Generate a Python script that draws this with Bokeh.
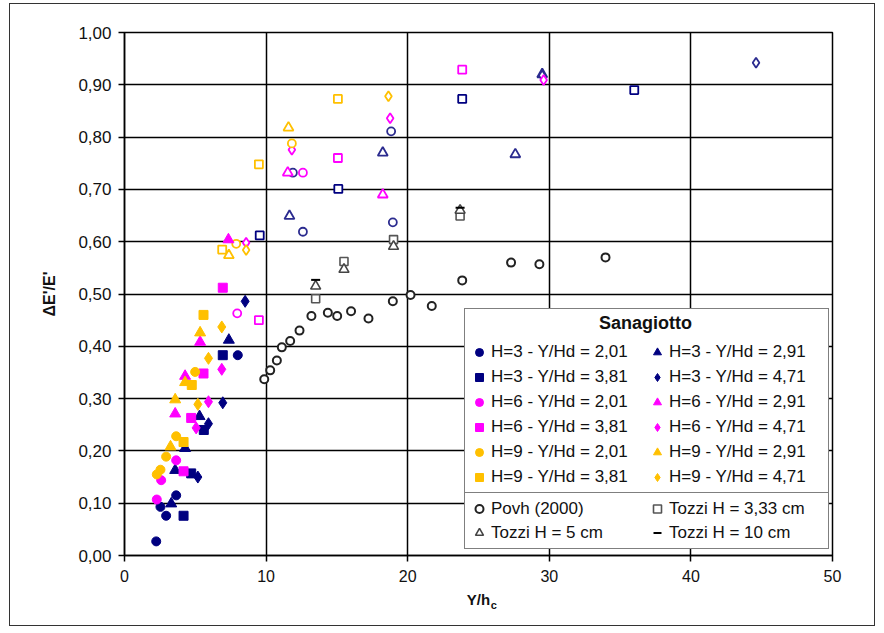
from bokeh.plotting import figure
from bokeh.models import (Range1d, FixedTicker, CustomJSTickFormatter, Legend, LegendItem,
                          LinearAxis)
from bokeh.embed import file_html
from bokeh.resources import INLINE

# ---------------- data ----------------
x_ticks = [0, 10, 20, 30, 40, 50]
y_ticks = [0.0, 0.1, 0.2, 0.3, 0.4, 0.5, 0.6, 0.7, 0.8, 0.9, 1.0]

# Sanagiotto (filled markers, in legend)
h3_201_x = [2.24, 2.54, 2.94, 3.65, 8.00]
h3_201_y = [0.027, 0.093, 0.076, 0.115, 0.383]
h3_291_x = [3.30, 3.58, 4.28, 5.30, 7.37]
h3_291_y = [0.099, 0.163, 0.205, 0.266, 0.412]
h3_381_x = [4.17, 4.71, 5.60, 6.94]
h3_381_y = [0.076, 0.157, 0.240, 0.383]
h3_471_x = [5.18, 5.93, 6.94, 8.52]
h3_471_y = [0.150, 0.252, 0.292, 0.486]

h6_201_x = [2.28, 2.59, 3.65]
h6_201_y = [0.107, 0.144, 0.182]
h6_291_x = [3.58, 4.28, 5.34, 7.34]
h6_291_y = [0.271, 0.343, 0.408, 0.604]
h6_381_x = [4.17, 4.71, 5.58, 6.94]
h6_381_y = [0.161, 0.263, 0.348, 0.512]
h6_471_x = [5.06, 5.93, 6.87]
h6_471_y = [0.244, 0.294, 0.356]

h9_201_x = [2.28, 2.54, 2.94, 3.65, 4.99]
h9_201_y = [0.155, 0.164, 0.189, 0.228, 0.351]
h9_291_x = [3.25, 3.58, 4.28, 5.34]
h9_291_y = [0.208, 0.298, 0.331, 0.426]
h9_381_x = [4.17, 4.75, 5.58]
h9_381_y = [0.217, 0.326, 0.460]
h9_471_x = [5.18, 5.93, 6.87]
h9_471_y = [0.289, 0.377, 0.437]

# Sanagiotto open markers (not in legend)
o3_sq_x = [9.55, 15.10, 23.85, 36.00]
o3_sq_y = [0.612, 0.701, 0.873, 0.890]
o3_tri_x = [11.65, 18.24, 27.60, 29.50]
o3_tri_y = [0.649, 0.770, 0.767, 0.920]
o3_cir_x = [11.89, 12.60, 18.95, 18.83]
o3_cir_y = [0.732, 0.619, 0.637, 0.811]
o3_dia_x = [29.50, 44.60]
o3_dia_y = [0.918, 0.942]

o6_sq_x = [9.49, 15.07, 23.85]
o6_sq_y = [0.450, 0.760, 0.929]
o6_tri_x = [11.53, 18.24]
o6_tri_y = [0.732, 0.690]
o6_cir_x = [7.96, 12.60]
o6_cir_y = [0.463, 0.732]
o6_dia_x = [8.59, 11.82, 18.76, 29.60]
o6_dia_y = [0.598, 0.776, 0.836, 0.909]

o9_sq_x = [6.90, 9.49, 15.07]
o9_sq_y = [0.585, 0.748, 0.873]
o9_tri_x = [7.37, 11.58]
o9_tri_y = [0.574, 0.818]
o9_cir_x = [7.89, 11.82]
o9_cir_y = [0.596, 0.788]
o9_dia_x = [8.59, 18.64]
o9_dia_y = [0.584, 0.878]

# Other authors
povh_x = [9.87, 10.29, 10.76, 11.11, 11.70, 12.36, 13.20, 14.36, 15.02, 16.00,
          17.23, 18.95, 20.20, 21.70, 23.85, 27.30, 29.30, 33.97]
povh_y = [0.337, 0.354, 0.373, 0.398, 0.410, 0.430, 0.458, 0.464, 0.458, 0.467,
          0.453, 0.486, 0.498, 0.477, 0.526, 0.560, 0.557, 0.570]
tozzi333_x = [13.5, 15.5, 19.0, 23.7]
tozzi333_y = [0.491, 0.562, 0.604, 0.649]
tozzi5_x = [13.5, 15.5, 19.0, 23.7]
tozzi5_y = [0.515, 0.547, 0.591, 0.660]
tozzi10_x = [13.5, 23.7]
tozzi10_y = [0.527, 0.665]

# ---------------- styles ----------------
NAVY = "#000080"
NAVY_O = "#2b2b8f"
MAG = "#FF00FF"
ORG = "#FFC000"
FONT = "Liberation Sans"

p = figure(frame_width=708, frame_height=523,
           min_border_left=114, min_border_right=42, min_border_top=28, min_border_bottom=70,
           x_range=Range1d(0, 50), y_range=Range1d(0, 1),
           output_backend="svg", toolbar_location=None,
           background_fill_color="white", border_fill_color="white")
p.styles = {"border": "1px solid #333", "margin-left": "9px", "margin-top": "3px"}

p.outline_line_color = "black"
p.outline_line_width = 1.5

for ax in (p.xaxis[0], p.yaxis[0]):
    ax.axis_line_color = "black"
    ax.axis_line_width = 1.5
    ax.major_tick_line_color = "black"
    ax.major_tick_line_width = 1.5
    ax.major_tick_out = 6
    ax.major_tick_in = 0
    ax.minor_tick_line_color = None
    ax.major_label_text_font = FONT
    ax.major_label_text_color = "#111111"
    ax.axis_label_text_font = FONT
    ax.axis_label_text_font_style = "bold"
    ax.axis_label_text_color = "#111111"

p.xaxis.ticker = FixedTicker(ticks=x_ticks)
p.yaxis.ticker = FixedTicker(ticks=y_ticks)
p.yaxis.formatter = CustomJSTickFormatter(code="return tick.toFixed(2).replace('.', ',');")
p.xaxis.major_label_text_font_size = "16px"
p.yaxis.major_label_text_font_size = "17px"
p.xaxis.major_label_standoff = 8
p.yaxis.major_label_standoff = 7
p.xaxis.axis_label = "Y/h"
p.yaxis.axis_label = "ΔE'/E'"
p.xaxis.axis_label_text_font_size = "15px"
p.yaxis.axis_label_text_font_size = "16px"
p.xaxis.axis_label_standoff = 6
p.yaxis.axis_label_standoff = 17

# subscript "c" of the x-axis label, as the label of an empty second axis
sub_axis = LinearAxis(ticker=FixedTicker(ticks=[]), axis_label="\u00a0" * 10 + "c",
                      axis_line_color=None, major_tick_line_color=None,
                      minor_tick_line_color=None, major_tick_out=0, major_tick_in=0,
                      major_label_text_font_size="0px", axis_label_standoff=-12,
                      axis_label_text_font=FONT, axis_label_text_font_style="bold",
                      axis_label_text_font_size="11px", axis_label_text_color="#111111")
p.add_layout(sub_axis, "below")

p.xgrid.ticker = FixedTicker(ticks=x_ticks)
p.ygrid.ticker = FixedTicker(ticks=y_ticks)
for g in (p.xgrid[0], p.ygrid[0]):
    g.grid_line_color = "black"
    g.grid_line_width = 1.5
    g.grid_line_alpha = 1.0

# open Sanagiotto markers (drawn first)
def open_set(xs, ys, marker, color, size):
    p.scatter(xs, ys, marker=marker, size=size, line_color=color, line_width=1.8,
              fill_color="white")

open_set(o3_sq_x, o3_sq_y, "square", NAVY, 8)
open_set(o3_tri_x, o3_tri_y, "triangle", NAVY_O, 10)
open_set(o3_cir_x, o3_cir_y, "circle", NAVY_O, 8)
open_set(o3_dia_x, o3_dia_y, "diamond", NAVY_O, 10)
open_set(o6_sq_x, o6_sq_y, "square", MAG, 8)
open_set(o6_tri_x, o6_tri_y, "triangle", MAG, 10)
open_set(o6_cir_x, o6_cir_y, "circle", MAG, 8)
open_set(o6_dia_x, o6_dia_y, "diamond", MAG, 10)
open_set(o9_sq_x, o9_sq_y, "square", ORG, 8)
open_set(o9_tri_x, o9_tri_y, "triangle", ORG, 10)
open_set(o9_cir_x, o9_cir_y, "circle", ORG, 8)
open_set(o9_dia_x, o9_dia_y, "diamond", ORG, 10)

# other authors
r_povh = p.scatter(povh_x, povh_y, marker="circle", size=8, line_color="#222222",
                   line_width=2, fill_color="white")
r_t333 = p.scatter(tozzi333_x, tozzi333_y, marker="square", size=8, line_color="#555555",
                   line_width=1.6, fill_color="white")
r_t5 = p.scatter(tozzi5_x, tozzi5_y, marker="triangle", size=10, line_color="#444444",
                 line_width=1.6, fill_color="white")
r_t10 = p.scatter(tozzi10_x, tozzi10_y, marker="dash", size=9, line_color="black",
                  line_width=2)

# filled Sanagiotto markers
def filled(xs, ys, marker, color, size):
    return p.scatter(xs, ys, marker=marker, size=size, line_color=color, fill_color=color)

sizes = {"circle": 9, "triangle": 11, "square": 9, "diamond": 12}
series = [
    ("H=3 - Y/Hd = 2,01", h3_201_x, h3_201_y, "circle", NAVY),
    ("H=3 - Y/Hd = 2,91", h3_291_x, h3_291_y, "triangle", NAVY),
    ("H=3 - Y/Hd = 3,81", h3_381_x, h3_381_y, "square", NAVY),
    ("H=3 - Y/Hd = 4,71", h3_471_x, h3_471_y, "diamond", NAVY),
    ("H=6 - Y/Hd = 2,01", h6_201_x, h6_201_y, "circle", MAG),
    ("H=6 - Y/Hd = 2,91", h6_291_x, h6_291_y, "triangle", MAG),
    ("H=6 - Y/Hd = 3,81", h6_381_x, h6_381_y, "square", MAG),
    ("H=6 - Y/Hd = 4,71", h6_471_x, h6_471_y, "diamond", MAG),
    ("H=9 - Y/Hd = 2,01", h9_201_x, h9_201_y, "circle", ORG),
    ("H=9 - Y/Hd = 2,91", h9_291_x, h9_291_y, "triangle", ORG),
    ("H=9 - Y/Hd = 3,81", h9_381_x, h9_381_y, "square", ORG),
    ("H=9 - Y/Hd = 4,71", h9_471_x, h9_471_y, "diamond", ORG),
]
items = []
for label, xs, ys, marker, color in series:
    r = filled(xs, ys, marker, color, sizes[marker])
    items.append(LegendItem(label=label, renderers=[r]))

def style_legend(lg, row_h):
    lg.orientation = "horizontal"
    lg.ncols = 2
    lg.margin = 0
    lg.padding = 4
    lg.spacing = 1
    lg.glyph_width = 20
    lg.glyph_height = row_h
    lg.label_height = row_h
    lg.label_width = 155
    lg.label_standoff = 2
    lg.label_text_font = FONT
    lg.label_text_font_size = "17px"
    lg.label_text_color = "#111111"
    lg.background_fill_color = "white"
    lg.background_fill_alpha = 1.0
    lg.border_line_color = "black"
    lg.border_line_width = 1.5

legend_top = Legend(items=items, location=(340, 61))
style_legend(legend_top, 24)
legend_top.title = "\u00a0" * 26 + "Sanagiotto"
legend_top.title_text_font = FONT
legend_top.title_text_font_style = "bold"
legend_top.title_text_font_size = "18px"
legend_top.title_text_color = "#111111"
legend_top.title_standoff = 6

legend_bot = Legend(items=[
    LegendItem(label="Povh (2000)", renderers=[r_povh]),
    LegendItem(label="Tozzi H = 3,33 cm", renderers=[r_t333]),
    LegendItem(label="Tozzi H = 5 cm", renderers=[r_t5]),
    LegendItem(label="Tozzi H = 10 cm", renderers=[r_t10]),
], location=(340, 6))
style_legend(legend_bot, 23)

p.add_layout(legend_top, "center")
p.add_layout(legend_bot, "center")

open("out.html", "w").write(file_html(p, INLINE))
